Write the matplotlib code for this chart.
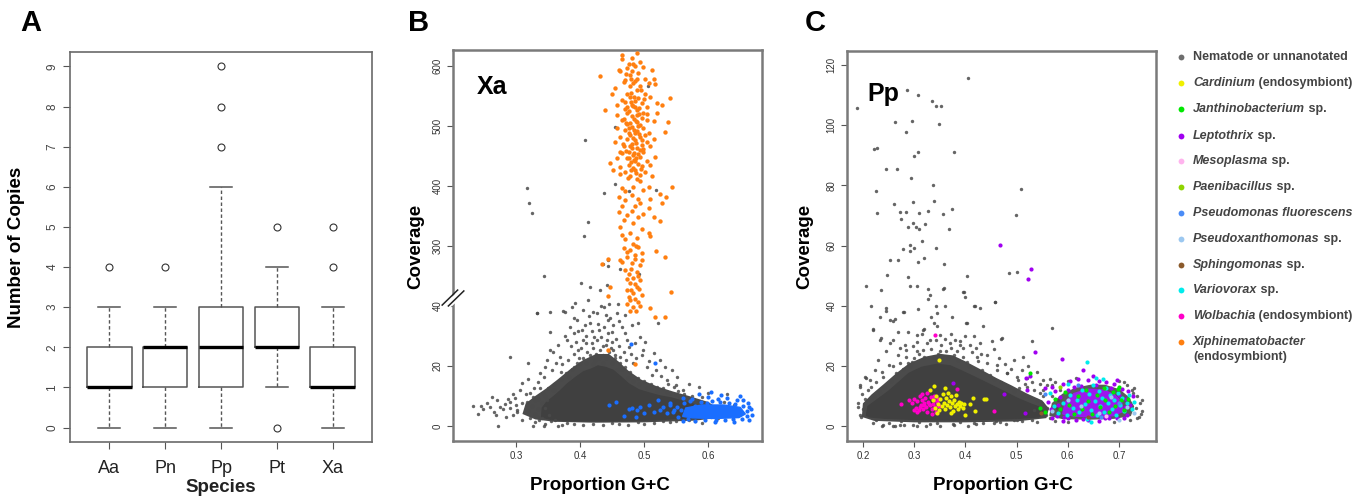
import matplotlib
matplotlib.use("Agg")
import matplotlib.pyplot as plt
import matplotlib.transforms as mtransforms
import numpy as np

plt.rcParams['font.family'] = ['Liberation Sans', 'DejaVu Sans']

W, H = 1369, 499

# ---------------- panel A : copy number boxplots ----------------
species = ['Aa', 'Pn', 'Pp', 'Pt', 'Xa']
whisker_lo = [0, 0, 0, 1, 0]
q1 = [1, 1, 1, 2, 1]
medians = [1, 2, 2, 2, 1]
q3 = [2, 2, 3, 3, 2]
whisker_hi = [3, 3, 6, 4, 3]
outliers = [[4], [4], [7, 8, 9], [0, 5], [4, 5]]

# ---------------- panel B : Xa, (GC, coverage) ----------------
# dense core of the nematode cloud and the looser zone around it, outlines
xa_core = [(0.340, 3.0), (0.341, 6.0), (0.348, 8.0), (0.357, 9.5), (0.368, 11.5), (0.380, 14.0),
           (0.392, 16.0), (0.405, 18.0), (0.418, 19.0), (0.428, 20.0), (0.440, 19.5), (0.452, 18.5), (0.463, 16.5),
           (0.476, 14.0), (0.492, 12.0), (0.508, 11.0), (0.525, 10.0), (0.543, 9.3), (0.560, 8.3),
           (0.580, 7.0), (0.598, 5.5), (0.606, 4.0), (0.598, 2.8), (0.560, 2.6), (0.520, 2.1),
           (0.480, 1.8), (0.430, 1.7), (0.380, 1.8), (0.355, 2.2)]
xa_halo = [(0.310, 4.0), (0.315, 7.5), (0.330, 10.0), (0.347, 12.5), (0.365, 15.5), (0.385, 19.0), (0.405, 22.0),
           (0.425, 24.0), (0.445, 24.0), (0.460, 21.5), (0.475, 18.5), (0.495, 15.5), (0.520, 13.2), (0.545, 11.5),
           (0.570, 10.0), (0.600, 8.0), (0.616, 5.8), (0.612, 2.6), (0.580, 1.8), (0.500, 1.2), (0.420, 1.1),
           (0.360, 1.4), (0.330, 2.2)]

xa_gray = [(0.233, 6.7), (0.249, 5.6), (0.259, 6.2), (0.265, 4.8), (0.272, 0.0), (0.275, 6.4), (0.283, 7.3),
           (0.291, 23.1), (0.291, 8.1), (0.298, 9.2), (0.301, 5.3), (0.309, 14.4), (0.317, 8.1), (0.319, 15.7),
           (0.319, 20.9), (0.327, 0.0), (0.327, 9.8), (0.332, 3.1), (0.333, 37.6), (0.338, 12.6), (0.343, 0.0),
           (0.343, 16.4), (0.348, 8.7), (0.353, 38.1), (0.353, 31.4), (0.353, 25.3), (0.356, 18.7), (0.361, 2.0),
           (0.366, 0.0), (0.369, 23.1), (0.377, 38.1), (0.379, 28.7), (0.382, 16.4), (0.387, 39.8), (0.390, 30.9),
           (0.392, 40.9), (0.395, 35.3), (0.397, 25.3), (0.403, 32.0), (0.405, 38.7), (0.410, 27.6), (0.413, 42.0),
           (0.416, 34.2), (0.421, 29.8), (0.426, 37.6), (0.431, 25.3), (0.437, 39.8), (0.442, 28.7), (0.444, 35.3),
           (0.450, 31.4), (0.452, 25.3), (0.457, 37.6), (0.463, 23.1), (0.470, 30.9), (0.476, 26.4), (0.483, 20.9),
           (0.491, 34.2), (0.494, 29.8), (0.499, 25.3), (0.504, 19.8), (0.515, 24.2), (0.522, 34.2), (0.525, 22.0),
           (0.535, 15.3), (0.543, 18.7), (0.551, 16.4), (0.332, 37.8), (0.374, 38.4),
           # fringe around the core
           (0.330, 4.0), (0.325, 6.5), (0.335, 9.0), (0.342, 11.0), (0.350, 12.5), (0.360, 14.0), (0.370, 15.5),
           (0.378, 17.5), (0.388, 19.0), (0.395, 21.0), (0.405, 22.5), (0.415, 23.5), (0.425, 24.0), (0.435, 23.5),
           (0.445, 24.5), (0.455, 22.5), (0.462, 21.0), (0.470, 19.5), (0.478, 18.0), (0.490, 16.0), (0.500, 15.0),
           (0.510, 14.0), (0.520, 13.0), (0.530, 12.5), (0.540, 11.0), (0.555, 10.0), (0.570, 9.0), (0.585, 8.0),
           (0.600, 7.0), (0.610, 5.0), (0.605, 3.0), (0.580, 1.5), (0.540, 1.2), (0.500, 0.8), (0.460, 0.7),
           (0.420, 0.8), (0.380, 1.0), (0.355, 1.5), (0.340, 2.5), (0.318, 5.0), (0.310, 7.5), (0.302, 4.5),
           (0.290, 6.0), (0.280, 5.5), (0.345, 6.0), (0.330, 8.5), (0.360, 12.0), (0.400, 21.0), (0.430, 22.5),
           (0.460, 19.0), (0.440, 27.0), (0.420, 26.0), (0.450, 28.0), (0.390, 24.0), (0.410, 30.0), (0.430, 32.0),
           (0.560, 12.0), (0.575, 10.0), (0.590, 9.5), (0.600, 11.0), (0.615, 9.0), (0.630, 10.5), (0.550, 13.5),
           (0.585, 13.0), (0.570, 14.0),
           (0.372, 20.5), (0.381, 22.0), (0.386, 26.5), (0.393, 28.0), (0.398, 22.8), (0.402, 26.0), (0.407, 33.5),
           (0.411, 24.8), (0.414, 36.5), (0.418, 27.5), (0.419, 31.5), (0.423, 22.0), (0.427, 28.5), (0.428, 34.0),
           (0.432, 40.0), (0.433, 29.8), (0.436, 26.8), (0.438, 33.0), (0.441, 22.5), (0.443, 31.0), (0.447, 36.0),
           (0.448, 26.0), (0.451, 33.8), (0.454, 23.5), (0.456, 29.0), (0.459, 40.5), (0.461, 26.5), (0.466, 33.0),
           (0.468, 24.8), (0.472, 22.0), (0.474, 28.8), (0.479, 24.0), (0.481, 33.5), (0.486, 27.5), (0.488, 22.5),
           (0.496, 23.5), (0.501, 28.0), (0.508, 21.5), (0.512, 17.0), (0.518, 18.5), (0.527, 16.5), (0.533, 19.5),
           (0.538, 14.0), (0.547, 13.0), (0.553, 11.5), (0.563, 10.5), (0.390, 36.0), (0.384, 33.0), (0.376, 30.0),
           (0.366, 27.0), (0.362, 21.0), (0.358, 24.5), (0.348, 22.0), (0.346, 19.5), (0.338, 17.5), (0.334, 14.5),
           (0.328, 12.5), (0.322, 11.0), (0.315, 10.5), (0.306, 12.0), (0.300, 7.0), (0.295, 10.5), (0.287, 9.0),
           (0.270, 8.5), (0.262, 9.5), (0.255, 7.5), (0.245, 6.5), (0.240, 4.0), (0.268, 3.5), (0.284, 3.0),
           (0.296, 3.5), (0.310, 2.0), (0.322, 2.8), (0.330, 1.2), (0.345, 0.6), (0.352, 3.5), (0.372, 0.3),
           (0.390, 0.6), (0.405, 0.2), (0.435, 0.3), (0.450, 1.0), (0.475, 0.4), (0.490, 1.2), (0.515, 0.9),
           (0.530, 1.5), (0.550, 1.6), (0.570, 2.0), (0.590, 1.0), (0.615, 2.5), (0.620, 6.0), (0.625, 8.0),
           (0.640, 7.0), (0.370, 18.0), (0.390, 19.5), (0.410, 21.0), (0.420, 20.5), (0.435, 21.0), (0.450, 21.0),
           (0.458, 18.5), (0.465, 19.0), (0.475, 16.0), (0.483, 15.0), (0.492, 14.0), (0.505, 12.8), (0.520, 11.8),
           (0.535, 11.2), (0.550, 10.8), (0.357, 12.0), (0.346, 10.0), (0.341, 7.5), (0.334, 5.5), (0.336, 2.0),
           (0.420, 38.0), (0.445, 40.5), (0.397, 31.5), (0.405, 28.5), (0.460, 35.0), (0.470, 37.0), (0.440, 37.0),
           # above the axis break (true coverage)
           (0.343, 250), (0.402, 238), (0.416, 232), (0.431, 227), (0.442, 235),
           (0.317, 397), (0.321, 371), (0.325, 355), (0.408, 477), (0.413, 340), (0.406, 316), (0.435, 270),
           (0.443, 277), (0.443, 267), (0.455, 499), (0.438, 388), (0.455, 403), (0.463, 261), (0.476, 391),
           (0.506, 567), (0.519, 393), (0.492, 254)]

xa_orange = [(0.489, 621), (0.465, 618), (0.481, 613), (0.465, 611), (0.494, 606), (0.476, 603), (0.486, 600),
             (0.473, 596), (0.498, 599), (0.460, 593), (0.481, 591), (0.463, 591), (0.431, 583), (0.478, 585),
             (0.512, 594), (0.489, 579), (0.470, 577), (0.502, 578), (0.515, 578), (0.507, 572), (0.468, 574),
             (0.483, 572), (0.478, 566), (0.494, 566), (0.517, 570), (0.455, 563), (0.450, 554), (0.489, 560),
             (0.473, 554), (0.502, 554), (0.509, 549), (0.478, 549), (0.491, 546), (0.465, 543), (0.520, 539),
             (0.486, 541), (0.496, 538), (0.481, 535), (0.457, 535), (0.439, 526), (0.528, 535), (0.540, 546),
             (0.504, 532), (0.470, 529), (0.489, 527), (0.473, 522), (0.499, 522), (0.520, 522), (0.457, 518),
             (0.481, 516), (0.496, 514), (0.465, 510), (0.489, 507), (0.504, 510), (0.515, 509), (0.538, 507),
             (0.473, 504), (0.494, 502), (0.481, 498), (0.457, 496), (0.499, 496), (0.470, 493), (0.489, 491),
             (0.533, 490), (0.507, 488), (0.478, 485), (0.463, 482), (0.494, 482), (0.473, 478), (0.515, 478),
             (0.486, 477), (0.504, 474), (0.455, 474), (0.481, 470), (0.496, 468), (0.468, 467), (0.489, 463),
             (0.509, 466), (0.476, 457), (0.499, 457), (0.463, 456), (0.517, 449), (0.483, 452), (0.494, 449),
             (0.473, 446), (0.457, 446), (0.504, 442), (0.486, 441), (0.447, 438), (0.476, 435), (0.496, 433),
             (0.463, 432), (0.509, 435), (0.452, 427), (0.486, 427), (0.470, 424), (0.502, 424), (0.494, 418),
             (0.478, 417), (0.512, 416), (0.463, 420), (0.489, 411), (0.507, 399), (0.465, 396), (0.543, 399),
             (0.483, 399), (0.470, 391), (0.499, 393), (0.481, 385), (0.525, 387), (0.460, 382), (0.491, 379),
             (0.509, 378), (0.534, 382), (0.470, 376), (0.494, 371), (0.486, 366), (0.465, 366), (0.528, 372),
             (0.507, 363), (0.481, 359), (0.460, 357), (0.499, 354), (0.473, 352), (0.491, 349), (0.515, 349),
             (0.468, 343), (0.483, 339), (0.525, 341), (0.463, 332), (0.496, 329), (0.478, 322), (0.507, 322),
             (0.465, 318), (0.489, 314), (0.509, 317), (0.470, 311),
             (0.480, 540), (0.486, 532), (0.476, 525), (0.492, 520), (0.484, 512), (0.478, 505), (0.490, 500),
             (0.484, 493), (0.476, 488), (0.492, 486), (0.482, 480), (0.488, 472), (0.478, 466), (0.493, 460),
             (0.484, 455), (0.488, 446), (0.479, 440), (0.491, 437), (0.483, 430), (0.487, 421), (0.475, 414),
             (0.493, 408), (0.469, 512), (0.500, 545), (0.505, 520), (0.467, 470), (0.498, 462), (0.472, 505),
             (0.502, 485), (0.466, 455), (0.479, 555), (0.495, 560), (0.486, 575), (0.470, 540),
             (0.483, 533), (0.489, 518), (0.477, 497), (0.486, 488), (0.481, 463), (0.490, 453), (0.476, 447),
             (0.484, 444), (0.480, 426), (0.495, 428), (0.472, 458), (0.497, 476), (0.487, 508), (0.474, 532),
             (0.492, 530), (0.484, 548), (0.479, 578), (0.491, 588), (0.482, 603), (0.472, 586),
             (0.483, 304), (0.468, 296), (0.478, 293), (0.491, 299), (0.496, 288), (0.473, 282), (0.486, 279),
             (0.481, 271), (0.494, 268), (0.465, 274), (0.489, 257), (0.476, 254), (0.483, 246), (0.494, 243),
             (0.478, 238), (0.489, 232), (0.473, 227), (0.483, 221), (0.496, 218), (0.478, 210), (0.491, 207),
             (0.473, 204), (0.447, 232), (0.444, 216), (0.462, 276), (0.519, 291), (0.533, 282), (0.542, 224),
             (0.509, 196), (0.517, 182), (0.533, 182), (0.487, 191), (0.478, 191), (0.434, 270), (0.444, 279),
             (0.488, 300), (0.474, 290), (0.485, 285), (0.479, 262), (0.490, 250), (0.474, 245), (0.486, 236),
             (0.480, 226), (0.492, 228), (0.476, 215), (0.486, 212), (0.494, 200), (0.482, 198), (0.470, 260),
             (0.497, 276),
             (0.443, 25.3), (0.486, 20.7)]

xa_blue_core = [(0.560, 3.2), (0.565, 6.0), (0.590, 7.0), (0.625, 7.0), (0.650, 6.2), (0.658, 4.0), (0.648, 2.8),
                (0.610, 2.5), (0.575, 2.7)]
xa_blue = [(0.480, 27.3), (0.517, 20.9), (0.445, 6.9), (0.456, 8.0), (0.468, 3.4), (0.476, 5.6),
           (0.481, 5.9), (0.489, 5.3), (0.494, 6.4), (0.500, 4.2), (0.507, 7.0), (0.515, 4.8), (0.522, 8.7),
           (0.525, 5.3), (0.530, 6.4), (0.535, 4.2), (0.541, 7.6), (0.546, 5.3), (0.551, 6.4), (0.488, 2.9),
           (0.560, 9.2), (0.575, 9.0), (0.600, 9.5), (0.615, 9.0), (0.630, 9.3), (0.645, 8.8), (0.655, 8.5),
           (0.662, 7.5), (0.667, 5.5), (0.668, 3.5), (0.663, 2.0), (0.640, 1.3), (0.610, 1.2), (0.580, 1.5),
           (0.560, 1.6), (0.545, 4.5), (0.540, 7.0), (0.585, 10.5), (0.620, 10.2), (0.650, 10.0), (0.605, 11.2),
           (0.553, 3.0), (0.557, 5.2), (0.562, 7.6), (0.568, 2.2), (0.572, 8.2), (0.580, 6.8), (0.588, 8.0),
           (0.595, 2.1), (0.598, 7.8), (0.606, 8.3), (0.612, 1.9), (0.618, 7.9), (0.626, 2.0), (0.633, 7.6),
           (0.638, 2.4), (0.642, 7.2), (0.652, 2.2), (0.655, 6.8), (0.660, 5.0), (0.661, 3.2), (0.664, 6.2)]

# ---------------- panel C : Pp, (GC, coverage) ----------------
pp_core = [(0.207, 3.5), (0.210, 6.5), (0.226, 8.5), (0.250, 11.5), (0.270, 14.5), (0.290, 17.5), (0.315, 19.5),
           (0.345, 20.5), (0.370, 20.0), (0.390, 18.5), (0.415, 16.5), (0.445, 14.0), (0.475, 11.5), (0.500, 9.3),
           (0.525, 7.5), (0.545, 6.2), (0.552, 4.5), (0.543, 3.0), (0.500, 2.5), (0.440, 2.2), (0.370, 2.0),
           (0.300, 2.2), (0.240, 2.6), (0.214, 3.0)]
pp_halo = [(0.198, 3.0), (0.200, 7.5), (0.217, 10.5), (0.240, 13.8), (0.265, 17.5), (0.290, 20.8), (0.320, 23.0),
           (0.350, 24.0), (0.375, 23.5), (0.400, 21.5), (0.430, 18.8), (0.460, 16.0), (0.490, 13.5), (0.520, 10.8),
           (0.550, 8.5), (0.563, 5.8), (0.558, 2.6), (0.500, 1.5), (0.400, 1.2), (0.300, 1.2), (0.222, 1.7)]
pp_right_core = [(0.565, 3.5), (0.570, 7.5), (0.590, 10.5), (0.615, 12.5), (0.645, 13.5), (0.672, 13.5),
                 (0.700, 12.0), (0.718, 9.5), (0.728, 6.5), (0.722, 3.5), (0.690, 2.6), (0.640, 2.3), (0.590, 2.5)]
pp_purple_core = [(0.590, 4.0), (0.595, 8.0), (0.612, 10.8), (0.640, 12.2), (0.668, 12.0), (0.690, 10.5),
                  (0.705, 8.0), (0.707, 4.8), (0.688, 3.4), (0.650, 3.0), (0.612, 3.3)]

pp_gray = [(0.188, 105.7), (0.406, 115.7), (0.286, 111.7), (0.308, 110.0), (0.334, 108.0), (0.343, 106.4),
           (0.352, 106.3), (0.263, 101.2), (0.296, 101.3), (0.349, 100.3), (0.285, 97.6), (0.222, 92.0),
           (0.227, 92.4), (0.307, 91.2), (0.299, 89.7), (0.377, 91.1), (0.245, 85.3), (0.266, 85.3), (0.294, 82.6),
           (0.336, 80.0), (0.509, 78.9), (0.226, 78.1), (0.260, 73.8), (0.298, 74.6), (0.338, 74.7), (0.228, 70.7),
           (0.272, 71.1), (0.285, 71.0), (0.309, 70.9), (0.328, 71.6), (0.356, 70.4), (0.373, 72.0), (0.499, 70.2),
           (0.275, 68.8), (0.298, 67.6), (0.289, 66.2), (0.304, 66.1), (0.310, 65.6), (0.322, 67.2), (0.369, 65.6),
           (0.316, 61.6), (0.279, 58.7), (0.291, 60.1), (0.291, 58.1), (0.299, 59.3), (0.343, 59.2), (0.252, 55.3),
           (0.268, 55.3), (0.307, 54.4), (0.320, 55.9), (0.358, 53.8), (0.248, 50.3), (0.289, 49.5), (0.404, 50.0),
           (0.485, 50.9), (0.500, 51.2),
           (0.206, 46.7), (0.215, 39.8), (0.236, 45.1), (0.233, 36.1), (0.245, 39.2), (0.253, 35.3), (0.263, 35.6),
           (0.220, 32.2), (0.233, 28.7), (0.259, 28.7), (0.269, 31.1), (0.280, 37.8), (0.291, 46.4), (0.305, 46.4),
           (0.308, 38.9), (0.328, 45.6), (0.328, 42.2), (0.332, 36.4), (0.356, 45.6), (0.361, 39.8), (0.373, 36.4),
           (0.319, 32.2), (0.344, 33.3), (0.395, 44.4), (0.417, 39.8), (0.429, 39.2), (0.401, 34.2), (0.416, 29.8),
           (0.435, 33.1), (0.390, 28.4), (0.429, 27.6), (0.442, 23.7), (0.458, 41.2), (0.470, 28.9), (0.494, 22.0),
           (0.512, 23.1), (0.530, 28.1), (0.523, 19.8), (0.569, 32.6), (0.552, 15.3), (0.569, 13.7),
           (0.194, 13.7), (0.191, 6.4), (0.197, 3.1), (0.223, 18.7), (0.233, 10.9), (0.215, 12.9), (0.207, 15.9),
           (0.226, 2.0), (0.239, 0.3), (0.259, 0.0), (0.272, 0.3), (0.298, 0.3), (0.331, 0.7), (0.377, 0.3),
           (0.416, 1.1), (0.455, 1.1), (0.494, 2.0), (0.285, 25.3), (0.305, 24.8), (0.272, 20.9), (0.295, 21.4),
           (0.250, 20.3), (0.461, 20.3), (0.481, 17.6), (0.500, 16.4), (0.516, 14.0), (0.533, 12.0), (0.539, 18.1),
           (0.513, 9.8), (0.533, 5.3), (0.552, 9.8),
           (0.246, 38.1), (0.259, 34.8), (0.279, 37.9), (0.220, 32.0), (0.235, 29.2), (0.253, 27.6), (0.289, 31.4),
           (0.330, 43.7), (0.358, 45.9), (0.343, 40.0), (0.344, 37.5), (0.339, 34.2), (0.318, 32.0), (0.305, 30.3),
           (0.331, 28.7), (0.350, 30.3), (0.370, 27.6), (0.403, 34.2), (0.397, 44.4), (0.399, 42.9), (0.419, 39.8),
           (0.458, 41.1), (0.451, 28.1), (0.471, 29.2), (0.285, 23.1), (0.272, 25.9), (0.246, 24.8), (0.230, 22.0),
           (0.214, 15.3), (0.204, 16.4), (0.194, 13.1), (0.191, 7.6), (0.195, 3.7), (0.220, 0.9), (0.238, 0.1),
           (0.263, 0.0), (0.280, 0.2), (0.305, 0.0), (0.324, 0.1), (0.350, 0.0), (0.376, 0.7), (0.406, 0.1),
           (0.435, 0.9), (0.468, 1.4), (0.500, 2.0), (0.422, 23.1), (0.442, 20.9), (0.461, 18.7), (0.481, 17.6),
           (0.503, 15.3), (0.520, 13.1), (0.318, 25.3), (0.350, 24.8), (0.383, 24.8), (0.403, 21.4), (0.259, 19.8),
           (0.240, 16.4), (0.292, 19.8),
           (0.300, 22.5), (0.310, 24.0), (0.320, 23.0), (0.325, 27.5), (0.333, 25.5), (0.338, 22.8), (0.342, 28.5),
           (0.347, 24.0), (0.352, 26.8), (0.355, 23.2), (0.360, 28.8), (0.363, 25.0), (0.367, 22.5), (0.372, 26.0),
           (0.378, 23.5), (0.385, 22.0), (0.390, 27.0), (0.395, 23.0), (0.408, 20.0), (0.412, 24.5), (0.425, 21.5),
           (0.432, 18.5), (0.448, 17.0), (0.455, 15.5), (0.470, 14.5), (0.485, 13.0), (0.495, 11.5), (0.505, 12.5),
           (0.515, 10.0), (0.525, 9.5), (0.540, 8.5), (0.550, 7.5), (0.560, 6.0), (0.558, 3.5), (0.288, 21.0),
           (0.278, 19.0), (0.265, 17.5), (0.255, 15.0), (0.242, 13.0), (0.232, 11.5), (0.222, 10.0), (0.215, 8.5),
           (0.205, 9.0), (0.200, 5.5), (0.198, 10.5), (0.210, 12.0), (0.225, 14.5), (0.237, 18.0), (0.268, 23.5),
           (0.282, 27.0), (0.297, 26.5), (0.305, 28.0), (0.315, 30.5), (0.372, 30.5), (0.380, 28.5), (0.395, 26.0),
           (0.400, 30.0), (0.410, 27.0), (0.420, 26.0), (0.430, 24.0), (0.455, 25.5), (0.465, 22.5), (0.478, 20.5),
           (0.490, 19.0), (0.510, 18.5), (0.520, 16.0), (0.530, 14.5), (0.545, 11.0), (0.250, 1.0), (0.275, 1.5),
           (0.310, 1.2), (0.345, 1.0), (0.390, 1.3), (0.420, 0.5), (0.460, 1.6), (0.480, 0.6), (0.510, 1.5),
           (0.530, 2.0), (0.540, 1.2), (0.565, 2.5), (0.575, 1.5), (0.580, 8.5), (0.570, 10.0),
           (0.735, 9.8), (0.740, 7.5), (0.745, 5.0), (0.738, 3.0), (0.725, 12.0), (0.715, 13.5), (0.560, 13.5),
           (0.565, 15.5), (0.575, 14.6), (0.545, 14.0), (0.552, 12.0), (0.722, 2.0), (0.690, 1.2), (0.600, 1.4),
           (0.745, 8.5), (0.742, 4.0), (0.730, 12.5), (0.735, 2.5), (0.710, 14.5), (0.700, 15.0), (0.600, 15.0),
           (0.615, 16.0), (0.578, 6.0), (0.585, 12.0), (0.732, 6.0), (0.728, 10.8)]

pp_cardinium = [(0.336, 8.5), (0.340, 6.0), (0.343, 10.0), (0.346, 7.4), (0.349, 5.2), (0.351, 8.9), (0.354, 6.6),
                (0.356, 10.5), (0.358, 7.8), (0.360, 5.5), (0.362, 9.3), (0.364, 7.0), (0.366, 11.0), (0.368, 8.3),
                (0.370, 6.2), (0.372, 9.8), (0.374, 7.5), (0.376, 5.0), (0.378, 8.7), (0.380, 6.8), (0.382, 10.2),
                (0.384, 7.2), (0.386, 5.8), (0.388, 8.0), (0.390, 6.5), (0.392, 7.6), (0.395, 6.0), (0.398, 7.2),
                (0.360, 12.5), (0.348, 21.8), (0.331, 12.0), (0.339, 13.3), (0.414, 9.3), (0.409, 7.3), (0.400, 3.7),
                (0.418, 5.1), (0.437, 8.9), (0.345, 4.3), (0.371, 4.2), (0.441, 8.9)]
pp_wolbachia = [(0.296, 7.5), (0.300, 9.0), (0.303, 6.0), (0.306, 8.2), (0.309, 5.2), (0.311, 9.8), (0.313, 7.0),
                (0.316, 8.6), (0.318, 5.8), (0.320, 7.6), (0.322, 9.2), (0.324, 6.4), (0.326, 4.8), (0.328, 8.0),
                (0.330, 6.9), (0.332, 9.5), (0.334, 5.5), (0.336, 7.4), (0.338, 8.6), (0.340, 6.2), (0.342, 4.6),
                (0.344, 7.9), (0.346, 9.0), (0.348, 6.7), (0.305, 4.5), (0.315, 10.5), (0.325, 10.8), (0.335, 4.0),
                (0.319, 6.9), (0.329, 7.3), (0.312, 6.3), (0.339, 10.1), (0.290, 8.6), (0.300, 5.3), (0.275, 7.3),
                (0.341, 30.1), (0.455, 5.1), (0.383, 12.2)]
pp_leptothrix = [(0.467, 60.1), (0.528, 52.3), (0.523, 49.0), (0.535, 24.6), (0.588, 22.4), (0.519, 15.9),
                 (0.526, 16.7), (0.521, 11.8), (0.516, 4.2), (0.376, 14.2), (0.475, 10.7), (0.629, 18.7),
                 (0.556, 12.5), (0.562, 8.0), (0.570, 13.0), (0.578, 3.2), (0.575, 11.5), (0.590, 13.8),
                 (0.600, 2.8), (0.605, 14.8), (0.620, 15.5), (0.630, 2.4), (0.640, 15.2), (0.660, 14.8),
                 (0.675, 14.6), (0.680, 2.8), (0.690, 14.0), (0.705, 12.4), (0.710, 2.8), (0.718, 11.5),
                 (0.722, 7.0), (0.728, 9.8), (0.716, 3.8), (0.695, 15.2), (0.660, 1.8), (0.650, 16.5),
                 (0.615, 1.9), (0.570, 2.5), (0.590, 1.8), (0.612, 12.8), (0.568, 5.5), (0.580, 7.0),
                 (0.585, 9.5), (0.592, 3.0), (0.600, 11.8), (0.625, 13.2), (0.655, 13.6), (0.685, 12.6),
                 (0.700, 10.2), (0.712, 6.2), (0.714, 9.0), (0.640, 2.0), (0.672, 2.5), (0.695, 2.8)]
pp_variovorax = [(0.637, 21.4), (0.565, 11.0), (0.572, 6.5), (0.580, 4.2), (0.590, 7.8), (0.598, 3.5), (0.605, 10.2),
                 (0.610, 6.0), (0.618, 8.8), (0.622, 4.6), (0.628, 12.0), (0.633, 7.2), (0.638, 2.2), (0.642, 10.5),
                 (0.646, 5.4), (0.650, 13.5), (0.652, 8.3), (0.656, 3.8), (0.660, 11.5), (0.663, 6.6), (0.667, 9.4),
                 (0.671, 4.5), (0.675, 12.6), (0.678, 7.5), (0.682, 10.2), (0.686, 5.8), (0.690, 8.6), (0.694, 3.6),
                 (0.698, 11.0), (0.702, 6.9), (0.706, 9.3), (0.710, 4.9), (0.715, 7.8), (0.720, 10.4), (0.725, 5.6),
                 (0.730, 8.0), (0.645, 1.2), (0.600, 14.0), (0.668, 15.5), (0.655, 16.0)]
pp_janthino = [(0.526, 17.6), (0.575, 9.0), (0.585, 5.5), (0.595, 11.2), (0.603, 7.0), (0.612, 3.9), (0.620, 9.8),
               (0.627, 5.8), (0.635, 11.8), (0.640, 8.2), (0.648, 4.0), (0.657, 10.4), (0.662, 6.2), (0.670, 12.5),
               (0.673, 8.6), (0.680, 4.8), (0.688, 11.2), (0.692, 6.8), (0.700, 13.0), (0.704, 8.8), (0.710, 5.2),
               (0.698, 12.4), (0.718, 9.0), (0.545, 6.0), (0.555, 4.5)]
pp_pseudoxantho = [(0.570, 5.0), (0.600, 8.6), (0.625, 6.8), (0.660, 4.2), (0.685, 9.5), (0.700, 2.0), (0.715, 6.2),
                   (0.730, 4.4)]
pp_pfluor = [(0.555, 10.5), (0.620, 13.5), (0.665, 2.9), (0.700, 7.5)]
pp_sphingo = [(0.548, 4.2), (0.640, 3.0)]
pp_paeni = [(0.585, 12.8)]
pp_mesoplasma = [(0.675, 3.2)]

# ---------------- legend ----------------
legend_italic = ['', 'Cardinium', 'Janthinobacterium', 'Leptothrix', 'Mesoplasma', 'Paenibacillus',
                 'Pseudomonas fluorescens', 'Pseudoxanthomonas', 'Sphingomonas', 'Variovorax', 'Wolbachia',
                 'Xiphinematobacter']
legend_plain = ['Nematode or unnanotated', ' (endosymbiont)', ' sp.', ' sp.', ' sp.', ' sp.', '', ' sp.', ' sp.',
                ' sp.', ' (endosymbiont)', '']
legend_colors = ['#6e6e6e', '#f0f000', '#00e800', '#a000f0', '#ffb4ee', '#8fd400', '#4a8cf7', '#9cc8f0',
                 '#8b5a2b', '#00ecec', '#ff00c8', '#ff7f10']

GRAY = '#4a4a4a'
CORE = '#404040'
HALO = '#4b4b4b'
ORANGE = '#ff7f10'
BLUE = '#1a6eff'


def cols(pts):
    a = np.asarray(pts, dtype=float)
    return a[:, 0], a[:, 1]


def squeeze(cov):
    # Xa coverage axis is broken: values above 45 are drawn at 1/5 scale
    cov = np.asarray(cov, dtype=float)
    return np.where(cov < 45, cov, cov / 5.0)


def fig_box(left, top, right, bottom):
    return [left / W, 1 - bottom / H, (right - left) / W, (bottom - top) / H]


def style_scatter_axes(ax):
    for sp in ax.spines.values():
        sp.set_color('#7a7a7a')
        sp.set_linewidth(1.8)
    ax.tick_params(axis='both', labelsize=7, colors='#555555', labelcolor='#333333', length=4, width=0.8)
    for lab in ax.get_yticklabels():
        lab.set_rotation(90)
        lab.set_va('center')


fig = plt.figure(figsize=(W / 100, H / 100), dpi=100)

# ---- A
axA = fig.add_axes(fig_box(70, 52, 372, 442))
stats = [dict(label=s, whislo=wl, q1=a, med=m, q3=b, whishi=wh, fliers=f)
         for s, wl, a, m, b, wh, f in zip(species, whisker_lo, q1, medians, q3, whisker_hi, outliers)]
axA.bxp(stats, positions=range(1, 6), widths=0.8, capwidths=0.4,
        boxprops=dict(color='#555555', linewidth=1.1),
        medianprops=dict(color='black', linewidth=2.4),
        whiskerprops=dict(color='#555555', linewidth=1.0, linestyle=(0, (2.5, 1.8))),
        capprops=dict(color='#555555', linewidth=1.1),
        flierprops=dict(marker='o', markerfacecolor='none', markeredgecolor='#333333', markersize=5,
                        markeredgewidth=0.8))
axA.set_xlim(0.3, 5.7)
axA.set_ylim(-0.36, 9.36)
axA.set_yticks(range(10))
axA.set_xticks(range(1, 6))
axA.set_xticklabels(species)
for sp in axA.spines.values():
    sp.set_color('#6a6a6a')
    sp.set_linewidth(1.2)
axA.tick_params(axis='y', labelsize=8.5, colors='#555555', labelcolor='#444444', length=5, width=0.8)
axA.tick_params(axis='x', labelsize=13, colors='#555555', labelcolor='#222222', length=5, width=0.8, pad=8)
for lab in axA.get_yticklabels():
    lab.set_rotation(90)
    lab.set_va('center')

# ---- B
axB = fig.add_axes(fig_box(453, 50, 762, 441))
hx, hy = cols(xa_halo)
axB.fill(hx, squeeze(hy), color=HALO, lw=0, zorder=0.5)
cx, cy = cols(xa_core)
axB.fill(cx, squeeze(cy), color=CORE, lw=1, ec=CORE, zorder=1)
gx, gy = cols(xa_gray)
axB.scatter(gx, squeeze(gy), s=6, color=GRAY, alpha=0.85, lw=0, zorder=2)
bx, by = cols(xa_blue_core)
axB.fill(bx, squeeze(by), color=BLUE, lw=1, ec=BLUE, zorder=3)
bx, by = cols(xa_blue)
axB.scatter(bx, squeeze(by), s=9, color=BLUE, lw=0, zorder=3)
ox, oy = cols(xa_orange)
axB.scatter(ox, squeeze(oy), s=10, color=ORANGE, lw=0, zorder=4)
axB.set_xlim(0.2016, 0.684)
axB.set_ylim(-5, 125.3)
axB.set_xticks([0.3, 0.4, 0.5, 0.6])
axB.set_xticklabels(['0.3', '0.4', '0.5', '0.6'])
axB.set_yticks(squeeze([0, 20, 40, 300, 400, 500, 600]))
axB.set_yticklabels(['0', '20', '40', '300', '400', '500', '600'])
style_scatter_axes(axB)
axB.text(0.076, 0.905, 'Xa', transform=axB.transAxes, fontsize=18, fontweight='bold', va='center', ha='left')
# axis break mark
brk = mtransforms.blended_transform_factory(axB.transAxes, axB.transData)
axB.plot([-0.02, 0.035], [40.0, 45.0], transform=brk, color='white', lw=5, clip_on=False, zorder=10)
axB.plot([-0.035, 0.015], [40.3, 45.3], transform=brk, color='#222222', lw=1.1, clip_on=False, zorder=11)
axB.plot([-0.015, 0.035], [40.0, 45.0], transform=brk, color='#222222', lw=1.1, clip_on=False, zorder=11)

# ---- C
axC = fig.add_axes(fig_box(847, 51, 1156, 441))
hx, hy = cols(pp_halo)
axC.fill(hx, hy, color=HALO, lw=0, zorder=0.5)
cx, cy = cols(pp_core)
axC.fill(cx, cy, color=CORE, lw=1, ec=CORE, zorder=1)
cx, cy = cols(pp_right_core)
axC.fill(cx, cy, color='#5a5a5a', lw=1, ec='#5a5a5a', zorder=1)
gx, gy = cols(pp_gray)
axC.scatter(gx, gy, s=6, color=GRAY, alpha=0.85, lw=0, zorder=2)
cx, cy = cols(pp_purple_core)
axC.fill(cx, cy, color='#9b18ee', lw=1, ec='#9b18ee', zorder=3)
for pts, col in [(pp_leptothrix, legend_colors[3]), (pp_variovorax, legend_colors[9]),
                 (pp_janthino, legend_colors[2]), (pp_pseudoxantho, legend_colors[7]),
                 (pp_pfluor, legend_colors[6]), (pp_sphingo, legend_colors[8]), (pp_paeni, legend_colors[5]),
                 (pp_mesoplasma, legend_colors[4]), (pp_wolbachia, legend_colors[10]),
                 (pp_cardinium, legend_colors[1])]:
    px_, py_ = cols(pts)
    axC.scatter(px_, py_, s=9, color=col, lw=0, zorder=4)
axC.set_xlim(0.169, 0.772)
axC.set_ylim(-5, 124.7)
axC.set_xticks([0.2, 0.3, 0.4, 0.5, 0.6, 0.7])
axC.set_yticks([0, 20, 40, 60, 80, 100, 120])
style_scatter_axes(axC)
axC.text(0.065, 0.89, 'Pp', transform=axC.transAxes, fontsize=18, fontweight='bold', va='center', ha='left')

# ---- figure texts
def ftext(x, y, s, **kw):
    fig.text(x / W, 1 - y / H, s, **kw)

ftext(31, 23, 'A', fontsize=21, fontweight='bold', ha='center', va='center')
ftext(419, 23, 'B', fontsize=21, fontweight='bold', ha='center', va='center')
ftext(815, 23, 'C', fontsize=21, fontweight='bold', ha='center', va='center')
ftext(17, 247, 'Number of Copies', fontsize=13.5, fontweight='bold', rotation=90, ha='center', va='center')
ftext(221, 488, 'Species', fontsize=13.5, fontweight='bold', ha='center', va='center', color='#222222')
ftext(416, 246, 'Coverage', fontsize=13.5, fontweight='bold', rotation=90, ha='center', va='center')
ftext(805, 246, 'Coverage', fontsize=13.5, fontweight='bold', rotation=90, ha='center', va='center')
ftext(600, 486, 'Proportion G+C', fontsize=13.5, fontweight='bold', ha='center', va='center')
ftext(1003, 486, 'Proportion G+C', fontsize=13.5, fontweight='bold', ha='center', va='center')

# ---- legend
lax = fig.add_axes([0, 0, 1, 1], facecolor='none')
lax.set_xlim(0, W)
lax.set_ylim(H, 0)
lax.axis('off')
legend_y = [56.7, 83.3, 109.3, 136.0, 160.7, 186.7, 212.7, 238.7, 265.0, 290.0, 316.0, 341.7]
txt_kw = dict(fontsize=9, fontweight='bold', color='#444444')
for y, ital, plain, col in zip(legend_y, legend_italic, legend_plain, legend_colors):
    lax.plot(1181, y, 'o', ms=4.2, color=col, mec='none')
    if ital:
        t = lax.text(1193, y, ital, style='italic', va='center', ha='left', **txt_kw)
        if plain:
            lax.annotate(plain, xy=(1, 0), xycoords=t, va='bottom', ha='left', **txt_kw)
    else:
        lax.text(1193, y, plain, va='center', ha='left', **txt_kw)
lax.text(1193, 356.7, '(endosymbiont)', va='center', ha='left', **txt_kw)

fig.savefig('out.png', dpi=100)
